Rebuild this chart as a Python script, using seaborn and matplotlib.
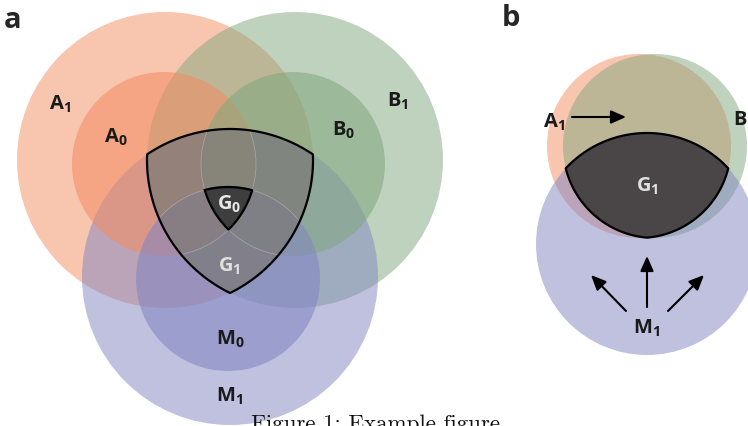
import seaborn as sns
import matplotlib.pyplot as plt
import numpy as np
from matplotlib.patches import Circle, Polygon

# circle sets, panel a (pixel coordinates of the reference picture)
a_names = ['A1', 'B1', 'M1', 'A0', 'B0', 'M0']
a_centers = [(165, 161), (295, 161), (230, 278), (164, 165), (293, 165), (228, 280)]
a_radii = [148, 148, 148, 92, 92, 92]
a_colors = ['#f38d61', '#81a77f', '#8185c1', '#f38d61', '#81a77f', '#8185c1']

# panel b
b_names = ['A1', 'B1', 'M1']
b_centers = [(639, 147), (655, 147), (647, 245)]
b_radii = [92, 92, 111]
b_colors = ['#f38d61', '#81a77f', '#8185c1']

sns.set_style('white')
plt.rcParams['mathtext.fontset'] = 'custom'
plt.rcParams['mathtext.rm'] = 'Open Sans'
plt.rcParams['mathtext.bf'] = 'Open Sans:bold'


def intersect_poly(centers, radii, n=1500):
    # boundary of the intersection of several disks (convex)
    pts = []
    for i, (c, r) in enumerate(zip(centers, radii)):
        t = np.linspace(0, 2 * np.pi, n, endpoint=False)
        xs = c[0] + r * np.cos(t)
        ys = c[1] + r * np.sin(t)
        ok = np.ones(n, bool)
        for j, (c2, r2) in enumerate(zip(centers, radii)):
            if j != i:
                ok &= np.hypot(xs - c2[0], ys - c2[1]) <= r2 + 1e-6
        pts.append(np.column_stack([xs[ok], ys[ok]]))
    pts = np.vstack(pts)
    m = pts.mean(axis=0)
    order = np.argsort(np.arctan2(pts[:, 1] - m[1], pts[:, 0] - m[0]))
    return pts[order]


fig = plt.figure(figsize=(7.48, 4.27), dpi=100)
ax = fig.add_axes([0, 0, 1, 1])
ax.set_xlim(0, 748)
ax.set_ylim(427, 0)
ax.set_aspect('equal')
ax.axis('off')

# ---- panel a
for k, (c, r, col) in enumerate(zip(a_centers, a_radii, a_colors)):
    ax.add_patch(Circle(c, r, facecolor=col, edgecolor='none', alpha=0.5 if k < 3 else 0.56))

g1 = intersect_poly(a_centers[:3], a_radii[:3])
ax.add_patch(Polygon(g1, closed=True, facecolor='#7d7a78', edgecolor='none', alpha=0.72))
# faint inner circle edges inside G1
clip = Polygon(g1, closed=True, transform=ax.transData)
for c, r in zip(a_centers[3:], a_radii[3:]):
    e = Circle(c, r, facecolor='none', edgecolor='white', lw=0.5, alpha=0.3)
    ax.add_patch(e)
    e.set_clip_path(clip)
ax.add_patch(Polygon(g1, closed=True, facecolor='none', edgecolor='black', lw=1.6))
g0 = intersect_poly(a_centers[3:], a_radii[3:])
ax.add_patch(Polygon(g0, closed=True, facecolor='#3e3e3e', edgecolor='black', lw=1.6))

lab = dict(fontsize=14.5, ha='center', va='center', color='#1a1a1a')
ax.text(60, 104, r'$\mathbf{A}_{\mathbf{1}}$', **lab)
ax.text(116, 137, r'$\mathbf{A}_{\mathbf{0}}$', **lab)
ax.text(398, 101, r'$\mathbf{B}_{\mathbf{1}}$', **lab)
ax.text(344, 130, r'$\mathbf{B}_{\mathbf{0}}$', **lab)
ax.text(230, 339, r'$\mathbf{M}_{\mathbf{0}}$', **lab)
ax.text(230, 396, r'$\mathbf{M}_{\mathbf{1}}$', **lab)
ax.text(229, 204, r'$\mathbf{G}_{\mathbf{0}}$', fontsize=14.5, ha='center', va='center', color='#e8e8e8')
ax.text(229, 266, r'$\mathbf{G}_{\mathbf{1}}$', fontsize=14.5, ha='center', va='center', color='#e0e0e0')
ax.text(13, 20, 'a', fontsize=21, fontweight='bold', family='Open Sans', ha='center', va='center')

# ---- panel b
for c, r, col in zip(b_centers, b_radii, b_colors):
    ax.add_patch(Circle(c, r, facecolor=col, edgecolor='none', alpha=0.5))
lens = intersect_poly(b_centers, b_radii)
ax.add_patch(Polygon(lens, closed=True, facecolor='#4a4648', edgecolor='black', lw=1.6))
ax.text(511, 18, 'b', fontsize=21, fontweight='bold', family='Open Sans', ha='center', va='center')
ax.text(554, 122, r'$\mathbf{A}_{\mathbf{1}}$', **lab)
ax.text(744, 120, r'$\mathbf{B}_{\mathbf{1}}$', **lab)
ax.text(647, 186, r'$\mathbf{G}_{\mathbf{1}}$', fontsize=14.5, ha='center', va='center', color='#e0e0e0')
ax.text(647, 328, r'$\mathbf{M}_{\mathbf{1}}$', **lab)

arrow = dict(arrowstyle='-|>,head_length=0.9,head_width=0.4', color='black', lw=1.5, shrinkA=0, shrinkB=0)
ax.annotate('', xy=(626, 118), xytext=(572, 118), arrowprops=arrow)
ax.annotate('', xy=(647, 257), xytext=(647, 308), arrowprops=arrow)
ax.annotate('', xy=(591, 276), xytext=(626, 312), arrowprops=arrow)
ax.annotate('', xy=(704, 276), xytext=(668, 312), arrowprops=arrow)

# caption
ax.text(376, 414, 'Figure 1: Example figure', family='cmr10', fontsize=16.5, ha='center', va='top', color='#111111')

fig.savefig('out.png', dpi=100)
